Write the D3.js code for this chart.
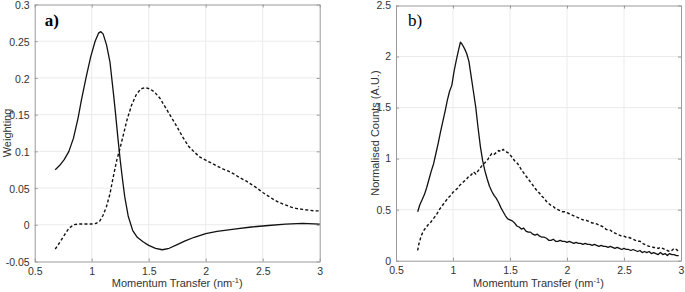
<!DOCTYPE html>
<html><head><meta charset="utf-8">
<script src="https://cdn.jsdelivr.net/npm/d3@7"></script>
<style>
html,body{margin:0;padding:0;background:#fff;}
svg{display:block;font-family:"Liberation Sans",Arial,sans-serif;}
</style></head>
<body><svg id="c" width="685" height="292"></svg>
<script>
// ---------- DATA ----------
const xTicks = [0.5, 1, 1.5, 2, 2.5, 3];
const yTicksA = [-0.05, 0, 0.05, 0.1, 0.15, 0.2, 0.25, 0.3];
const yTicksB = [0, 0.5, 1, 1.5, 2, 2.5];

// panel a) solid
const qA1 = [0.68,0.72,0.76,0.80,0.84,0.88,0.91,0.95,0.99,1.03,1.06,1.08,1.10,1.13,1.16,1.19,1.21,1.23,1.25,1.27,1.29,1.32,1.36,1.40,1.45,1.50,1.56,1.62,1.68,1.75,1.82,1.90,2.00,2.10,2.25,2.40,2.55,2.70,2.85,3.00];
const wA1 = [0.075,0.081,0.089,0.100,0.118,0.145,0.170,0.200,0.228,0.250,0.261,0.263,0.260,0.245,0.222,0.180,0.150,0.118,0.088,0.062,0.038,0.012,-0.008,-0.017,-0.023,-0.028,-0.032,-0.034,-0.032,-0.027,-0.022,-0.017,-0.012,-0.009,-0.006,-0.003,-0.001,0.001,0.002,0.001];
// panel a) dashed
const qA2 = [0.68,0.72,0.76,0.80,0.84,0.88,0.94,1.00,1.04,1.07,1.10,1.13,1.16,1.19,1.22,1.25,1.28,1.31,1.35,1.39,1.43,1.47,1.51,1.55,1.60,1.65,1.70,1.75,1.80,1.85,1.90,1.95,2.00,2.05,2.10,2.15,2.20,2.25,2.30,2.35,2.40,2.45,2.50,2.55,2.60,2.65,2.70,2.75,2.80,2.85,2.90,2.95,3.00];
const wA2 = [-0.033,-0.024,-0.014,-0.005,0.000,0.001,0.001,0.001,0.002,0.005,0.013,0.025,0.042,0.066,0.088,0.105,0.124,0.143,0.163,0.177,0.185,0.187,0.185,0.181,0.172,0.159,0.146,0.133,0.119,0.107,0.099,0.092,0.088,0.084,0.080,0.076,0.073,0.069,0.064,0.060,0.055,0.050,0.044,0.039,0.034,0.030,0.027,0.024,0.022,0.021,0.020,0.019,0.019];

// panel b) solid
const qB1 = [0.69,0.71,0.73,0.75,0.77,0.79,0.81,0.83,0.85,0.87,0.89,0.91,0.93,0.95,0.97,0.99,1.01,1.03,1.05,1.065,1.08,1.10,1.12,1.14,1.16,1.18,1.20,1.22,1.24,1.26,1.28,1.30,1.32,1.34,1.36,1.38,1.40,1.42,1.44,1.46,1.48,1.50,1.52,1.54,1.56,1.58,1.60,1.62,1.64,1.66,1.68,1.70,1.72,1.74,1.76,1.78,1.80,1.82,1.84,1.86,1.88,1.90,1.92,1.94,1.96,1.98,2.00,2.02,2.04,2.06,2.08,2.10,2.12,2.14,2.16,2.18,2.20,2.22,2.24,2.26,2.28,2.30,2.32,2.34,2.36,2.38,2.40,2.42,2.44,2.46,2.48,2.50,2.52,2.54,2.56,2.58,2.60,2.62,2.64,2.66,2.68,2.70,2.72,2.74,2.76,2.78,2.80,2.82,2.84,2.86,2.88,2.90,2.92,2.94,2.96,2.98];
const vB1 = [0.48,0.55,0.60,0.65,0.72,0.80,0.88,0.95,1.05,1.15,1.26,1.36,1.46,1.57,1.66,1.72,1.86,1.97,2.07,2.14,2.12,2.08,2.03,1.95,1.80,1.65,1.50,1.30,1.12,0.98,0.88,0.80,0.73,0.68,0.64,0.61,0.57,0.52,0.48,0.44,0.41,0.40,0.39,0.37,0.34,0.33,0.31,0.32,0.29,0.28,0.28,0.26,0.25,0.26,0.24,0.23,0.23,0.22,0.20,0.20,0.21,0.19,0.19,0.20,0.19,0.19,0.18,0.19,0.18,0.17,0.18,0.17,0.17,0.16,0.17,0.16,0.16,0.15,0.16,0.15,0.14,0.15,0.14,0.14,0.13,0.14,0.13,0.12,0.13,0.12,0.11,0.12,0.11,0.11,0.10,0.11,0.10,0.09,0.10,0.08,0.09,0.08,0.09,0.07,0.08,0.07,0.06,0.08,0.06,0.07,0.05,0.07,0.06,0.06,0.05,0.05];
// panel b) dashed
const qB2 = [0.69,0.70,0.72,0.74,0.76,0.78,0.80,0.82,0.84,0.86,0.88,0.90,0.92,0.94,0.96,0.98,1.00,1.02,1.04,1.06,1.08,1.10,1.12,1.14,1.16,1.18,1.20,1.22,1.24,1.26,1.28,1.30,1.32,1.34,1.36,1.38,1.40,1.42,1.44,1.46,1.48,1.50,1.52,1.54,1.56,1.58,1.60,1.62,1.64,1.66,1.68,1.70,1.72,1.74,1.76,1.78,1.80,1.82,1.84,1.86,1.88,1.90,1.92,1.94,1.96,1.98,2.00,2.02,2.04,2.06,2.08,2.10,2.12,2.14,2.16,2.18,2.20,2.22,2.24,2.26,2.28,2.30,2.32,2.34,2.36,2.38,2.40,2.42,2.44,2.46,2.48,2.50,2.52,2.54,2.56,2.58,2.60,2.62,2.64,2.66,2.68,2.70,2.72,2.74,2.76,2.78,2.80,2.82,2.84,2.86,2.88,2.90,2.92,2.94,2.96,2.98];
const vB2 = [0.10,0.16,0.24,0.29,0.32,0.35,0.37,0.40,0.43,0.46,0.50,0.53,0.56,0.59,0.62,0.64,0.67,0.69,0.71,0.74,0.76,0.78,0.80,0.83,0.84,0.87,0.85,0.88,0.91,0.94,0.96,0.98,1.02,1.05,1.04,1.06,1.08,1.07,1.09,1.07,1.06,1.04,1.01,0.98,0.96,0.93,0.89,0.86,0.83,0.80,0.77,0.74,0.71,0.68,0.66,0.63,0.61,0.58,0.56,0.54,0.53,0.51,0.50,0.49,0.48,0.48,0.47,0.46,0.45,0.44,0.43,0.42,0.41,0.40,0.40,0.39,0.38,0.37,0.37,0.36,0.35,0.34,0.33,0.31,0.30,0.30,0.28,0.27,0.26,0.25,0.24,0.24,0.23,0.23,0.22,0.21,0.20,0.19,0.19,0.17,0.16,0.15,0.14,0.14,0.13,0.13,0.12,0.13,0.12,0.11,0.10,0.09,0.10,0.12,0.11,0.09];

// ---------- DRAW ----------
const svg = d3.select("#c");
const fmt = d => String(d);

function panel(opt) {
  const x = d3.scaleLinear().domain([0.5, 3]).range([opt.x0, opt.x1]);
  const y = d3.scaleLinear().domain(opt.yDomain).range([opt.y1, opt.y0]);
  const g = svg.append("g");
  // grid
  g.append("g").selectAll("line").data(xTicks.slice(1, -1)).join("line")
    .attr("x1", d => x(d)).attr("x2", d => x(d)).attr("y1", opt.y0).attr("y2", opt.y1)
    .attr("stroke", "#ebebeb").attr("stroke-width", 1);
  g.append("g").selectAll("line").data(opt.yTicks.slice(1, -1)).join("line")
    .attr("x1", opt.x0).attr("x2", opt.x1).attr("y1", d => y(d)).attr("y2", d => y(d))
    .attr("stroke", "#ebebeb").attr("stroke-width", 1);
  // axes
  const ax = g.append("g").attr("transform", `translate(0,${opt.y1})`)
    .call(d3.axisBottom(x).tickValues(xTicks).tickFormat(fmt).tickSizeInner(-3).tickSizeOuter(0).tickPadding(6));
  const axT = g.append("g").attr("transform", `translate(0,${opt.y0})`)
    .call(d3.axisTop(x).tickValues(xTicks).tickFormat("").tickSizeInner(-3).tickSizeOuter(0));
  const ay = g.append("g").attr("transform", `translate(${opt.x0},0)`)
    .call(d3.axisLeft(y).tickValues(opt.yTicks).tickFormat(fmt).tickSizeInner(-3).tickSizeOuter(0).tickPadding(5));
  const ayR = g.append("g").attr("transform", `translate(${opt.x1},0)`)
    .call(d3.axisRight(y).tickValues(opt.yTicks).tickFormat("").tickSizeInner(-3).tickSizeOuter(0));
  [ax, axT, ay, ayR].forEach(a => {
    a.select(".domain").attr("stroke", "#9a9a9a").attr("stroke-width", 1);
    a.selectAll(".tick line").attr("stroke", "#9a9a9a");
    a.selectAll("text").attr("fill", "#333").attr("font-size", 10.5)
      .attr("font-family", '"Liberation Sans", Arial, sans-serif');
  });
  ay.selectAll("text").attr("dy", opt.ydy);
  // lines
  const line = d3.line().x(d => x(d[0])).y(d => y(d[1]));
  const s1 = opt.q1.map((q, i) => [q, opt.v1[i]]);
  const s2 = opt.q2.map((q, i) => [q, opt.v2[i]]);
  g.append("path").datum(s1).attr("d", line).attr("fill", "none")
    .attr("stroke", "#111").attr("stroke-width", 1.3).attr("stroke-linejoin", "round");
  g.append("path").datum(s2).attr("d", line).attr("fill", "none")
    .attr("stroke", "#111").attr("stroke-width", 1.4).attr("stroke-dasharray", "3,2.2");
  // titles
  const xt = g.append("text").attr("x", (opt.x0 + opt.x1) / 2).attr("y", 287)
    .attr("text-anchor", "middle").attr("font-size", 11).attr("fill", "#333");
  xt.append("tspan").text("Momentum Transfer (nm");
  xt.append("tspan").attr("dy", -4).attr("font-size", 7.5).text("-1");
  xt.append("tspan").attr("dy", 4).text(")");
  g.append("text").attr("transform", `translate(${opt.ylabX},${(opt.y0 + opt.y1) / 2}) rotate(-90)`)
    .attr("text-anchor", "middle").attr("font-size", 11).attr("fill", "#333").text(opt.ylab);
  g.append("text").attr("x", opt.x0 + opt.lx).attr("y", 26)
    .attr("font-family", '"Liberation Serif", "Times New Roman", serif')
    .attr("font-size", 17).attr("font-weight", opt.bold ? "bold" : "normal").attr("fill", "#000").text(opt.label);
}

panel({x0: 34.7, x1: 319.7, y0: 4.5, y1: 261.5, yDomain: [-0.05, 0.3], yTicks: yTicksA, ydy: "0.4em",
  q1: qA1, v1: wA1, q2: qA2, v2: wA2, ylab: "Weighting", ylabX: 11, label: "a)", lx: 10, bold: true});
panel({x0: 396, x1: 681, y0: 5.5, y1: 260.7, yDomain: [0, 2.5], yTicks: yTicksB, ydy: "0.32em",
  q1: qB1, v1: vB1, q2: qB2, v2: vB2, ylab: "Normalised Counts (A.U.)", ylabX: 379, label: "b)", lx: 12, bold: false});
</script></body></html>
